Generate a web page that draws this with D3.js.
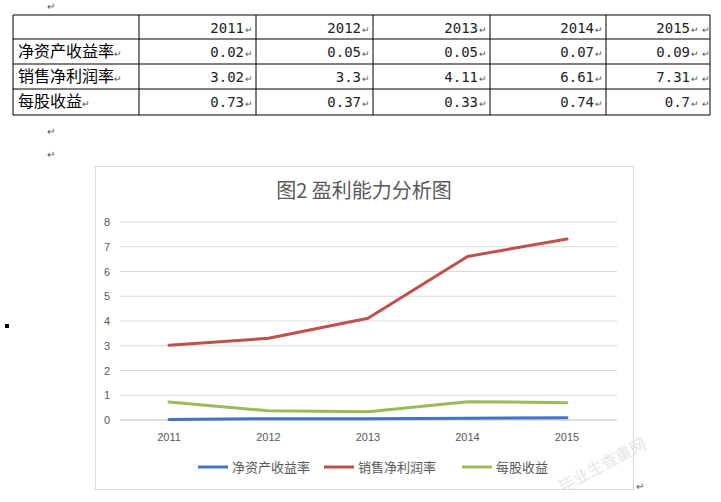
<!DOCTYPE html><html><head><meta charset="utf-8">
<script src="https://cdn.jsdelivr.net/npm/d3@7"></script>
<style>body{margin:0;background:#fff}svg{display:block}</style></head><body>
<svg id="c" width="721" height="502"></svg>
<script>
const years=["2011","2012","2013","2014","2015"];
const seriesNames=["净资产收益率","销售净利润率","每股收益"];
const roe=[0.02,0.05,0.05,0.07,0.09];
const margin=[3.02,3.3,4.11,6.61,7.31];
const eps=[0.73,0.37,0.33,0.74,0.7];
const tableText=[["0.02","0.05","0.05","0.07","0.09"],["3.02","3.3","4.11","6.61","7.31"],["0.73","0.37","0.33","0.74","0.7"]];
const colors=["#4472C4","#C0504D","#9BBB59"];
const yTicks=[0,1,2,3,4,5,6,7,8];
const svg=d3.select("#c");
const mark="↵";
const colX=[13,139,256,373,490,606,710], rowY=[15,39,64,89,115];
const tf="'DejaVu Sans Mono','Noto Sans CJK SC',monospace";
const cf="'Noto Sans CJK SC',sans-serif";
const endX=i=>i===4?colX[i+2]-20:colX[i+2]-12;
svg.append("text").attr("x",47).attr("y",10).attr("font-size",10).attr("fill","#555").text(mark);
rowY.forEach(y=>svg.append("line").attr("x1",colX[0]).attr("x2",colX[6]).attr("y1",y).attr("y2",y).attr("stroke","#000"));
colX.forEach(x=>svg.append("line").attr("x1",x).attr("x2",x).attr("y1",rowY[0]).attr("y2",rowY[4]).attr("stroke","#000"));
function cell(v,i,y){svg.append("text").attr("x",endX(i)).attr("y",y).attr("text-anchor","end").attr("font-size",14).attr("font-family",tf).attr("fill","#222").text(v);
 svg.append("text").attr("x",endX(i)+1).attr("y",y).attr("font-size",9).attr("fill","#555").text(mark);}
years.forEach((yv,i)=>cell(yv,i,33));
svg.append("text").attr("x",colX[6]-8).attr("y",33).attr("font-size",9).attr("fill","#555").text(mark);
seriesNames.forEach((n,r)=>{const y=rowY[r+1]+18;
 svg.append("text").attr("x",18).attr("y",y).attr("font-size",16).attr("font-family",cf).text(n);
 svg.append("text").attr("x",18+n.length*16).attr("y",y).attr("font-size",9).attr("fill","#555").text(mark);
 tableText[r].forEach((v,i)=>cell(v,i,y));
 svg.append("text").attr("x",colX[6]-8).attr("y",y).attr("font-size",9).attr("fill","#555").text(mark);});
svg.append("text").attr("x",47).attr("y",135).attr("font-size",10).attr("fill","#555").text(mark);
svg.append("text").attr("x",47).attr("y",158).attr("font-size",10).attr("fill","#555").text(mark);
svg.append("rect").attr("x",5).attr("y",324).attr("width",4).attr("height",4).attr("fill","#000");
svg.append("rect").attr("x",95.5).attr("y",166.5).attr("width",538).attr("height",323).attr("fill","#fff").attr("stroke","#d9d9d9");
svg.append("text").attr("x",364).attr("y",198).attr("text-anchor","middle").attr("font-size",20).attr("fill","#595959").attr("font-family",cf).text("图2 盈利能力分析图");
const x=d3.scalePoint().domain(years).range([169,567]);
const y=d3.scaleLinear().domain([0,8]).range([420,222]);
const g=svg.append("g");
yTicks.forEach(t=>{g.append("line").attr("x1",120).attr("x2",617).attr("y1",y(t)).attr("y2",y(t)).attr("stroke",t===0?"#bfbfbf":"#d9d9d9");
 g.append("text").attr("x",110).attr("y",y(t)+4).attr("text-anchor","end").attr("font-size",11).attr("fill","#595959").attr("font-family","Arial,'Liberation Sans',sans-serif").text(t);});
years.forEach(yv=>g.append("text").attr("x",x(yv)).attr("y",441).attr("text-anchor","middle").attr("font-size",11).attr("fill","#595959").attr("font-family","Arial,'Liberation Sans',sans-serif").text(yv));
const line=d3.line().x((d,i)=>x(years[i])).y(d=>y(d));
[roe,margin,eps].forEach((s,k)=>g.append("path").attr("d",line(s)).attr("fill","none").attr("stroke",colors[k]).attr("stroke-width",3).attr("stroke-linejoin","round").attr("stroke-linecap","round"));
const lx=[198,324,462];
seriesNames.forEach((n,k)=>{g.append("line").attr("x1",lx[k]).attr("x2",lx[k]+30).attr("y1",467).attr("y2",467).attr("stroke",colors[k]).attr("stroke-width",3);
 g.append("text").attr("x",lx[k]+34).attr("y",472).attr("font-size",13).attr("fill","#595959").attr("font-family",cf).text(n);});
svg.append("text").attr("x",636).attr("y",490).attr("font-size",10).attr("fill","#555").text(mark);
svg.append("text").attr("x",605).attr("y",470).attr("transform","rotate(-28,605,470)").attr("text-anchor","middle").attr("font-size",16).attr("fill","#e6e6e6").attr("font-family",cf).text("毕业生查重网");
</script></body></html>
